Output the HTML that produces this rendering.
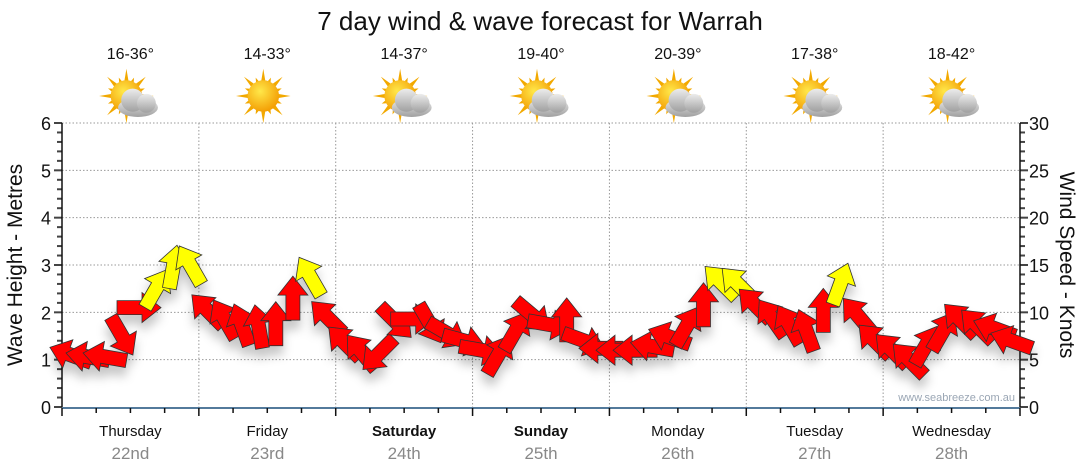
<!DOCTYPE html>
<html><head><meta charset="utf-8"><style>
body{margin:0;background:#fff;}
svg{display:block;font-family:"Liberation Sans",sans-serif;}
</style></head><body>
<svg id="chart" width="1080" height="475" viewBox="0 0 1080 475">
<defs>
<filter id="sh" x="-50%" y="-50%" width="200%" height="250%"><feDropShadow dx="0" dy="9" stdDeviation="5" flood-color="#000" flood-opacity="0.22"/></filter>
<radialGradient id="sunG" cx="0.4" cy="0.35" r="0.7"><stop offset="0" stop-color="#ffe84a"/><stop offset="1" stop-color="#f39a00"/></radialGradient>
<linearGradient id="cloudG" x1="0" y1="0" x2="0" y2="1"><stop offset="0" stop-color="#ececec"/><stop offset="1" stop-color="#a0a0a0"/></linearGradient>
</defs>
<text x="540" y="30" text-anchor="middle" font-size="26" fill="#111">7 day wind &amp; wave forecast for Warrah</text>
<g id="grid"></g>
<g id="axes"></g>
<g id="icons"></g>
<g id="arrows" filter="url(#sh)"></g>
<text transform="translate(22,265) rotate(-90)" text-anchor="middle" font-size="21" fill="#111">Wave Height - Metres</text>
<text transform="translate(1060,265) rotate(90)" text-anchor="middle" font-size="21" fill="#111">Wind Speed - Knots</text>
<text x="1015" y="401" text-anchor="end" font-size="11" fill="#9aa6b4">www.seabreeze.com.au</text>
</svg>
<script>
const days=["Thursday","Friday","Saturday","Sunday","Monday","Tuesday","Wednesday"];
const dates=["22nd","23rd","24th","25th","26th","27th","28th"];
const temps=["16-36°","14-33°","14-37°","19-40°","20-39°","17-38°","18-42°"];
const cloudy=[1,0,1,1,1,1,1];
const waveTicks=[0,1,2,3,4,5,6];
const windTicks=[0,5,10,15,20,25,30];
// wind speed (knots), 3-hourly
const windSpeed=[5.5,5.3,5.3,7.5,10.5,12.5,14.8,15,
10.2,9.3,8.7,8.5,8.8,11.5,13.8,9.5,
6.8,5.8,5.6,9,9.3,8.8,7.8,7,
6,5.5,8,9.7,8.7,9.2,7,6.2,
6,6,6.4,7.4,8.5,10.8,13.2,13,
10.8,9.4,8.7,8.1,10.2,13,9.7,7,
6,5,6.5,8,9.2,8.6,8.3,7];
// arrow screen angle (deg, 0=right, 90=down)
const windDir=[200,190,190,60,0,300,280,240,
225,240,250,260,270,270,240,225,
225,230,135,45,0,60,30,15,
10,300,300,40,10,270,20,180,
180,180,190,200,300,270,225,225,
225,235,240,250,270,290,230,225,
225,225,300,300,225,225,200,200];
const NS="http://www.w3.org/2000/svg";
const X0=62,X1=1020,Y0=407,Y1=123;
const dayW=(X1-X0)/7;
const xT=h=>X0+h/168*(X1-X0);
const yW=m=>Y0-m/6*(Y0-Y1);
const yK=k=>Y0-k/30*(Y0-Y1);
function mk(tag,attrs,parent){const e=document.createElementNS(NS,tag);for(const k in attrs)e.setAttribute(k,attrs[k]);parent.appendChild(e);return e;}
const grid=document.getElementById('grid'),axes=document.getElementById('axes'),icons=document.getElementById('icons'),arrows=document.getElementById('arrows');
waveTicks.forEach(v=>{
 if(v>0){const l=mk('line',{x1:X0,x2:X1,y1:yW(v),y2:yW(v),stroke:'#999','stroke-dasharray':'1.5,2'},grid);
 
 }
 const t=mk('text',{x:46,y:yW(v)+7,'text-anchor':'middle','font-size':18,fill:'#111'},axes);t.textContent=v;
 
 
});
windTicks.forEach(v=>{
 const t=mk('text',{x:1029,y:yK(v)+7,'font-size':18,fill:'#111'},axes);t.textContent=v;
 
 
});
for(let i=0;i<=30;i++){
 const y=yK(i),len=(i%5==0)?8:5;
 mk('line',{x1:X0,x2:X0-len,y1:y,y2:y,stroke:'#444','stroke-width':2},axes);
 mk('line',{x1:X1,x2:X1+len,y1:y,y2:y,stroke:'#444','stroke-width':2},axes);
}
mk('line',{x1:X0,x2:X0,y1:Y1,y2:Y0,stroke:'#111','stroke-width':1.5},axes);
mk('line',{x1:X1,x2:X1,y1:Y1,y2:Y0,stroke:'#111','stroke-width':1.5},axes);
const xa=mk('line',{x1:X0,x2:X1,y1:Y0+1,y2:Y0+1,stroke:'#1a4f7a','stroke-width':1.5},axes);


for(let h=0;h<=168;h+=6){const x=xT(h);mk('line',{x1:x,x2:x,y1:Y0+1,y2:Y0+(h%24==0?9:6),stroke:'#111','stroke-width':1.5},axes);}
days.forEach((d,i)=>{
 const cx=X0+dayW*(i+0.5);
 if(i>0){const g=mk('line',{x1:X0+dayW*i,x2:X0+dayW*i,y1:Y1,y2:Y0,stroke:'#999','stroke-dasharray':'1.5,2'},grid);
 
 }
 const t=mk('text',{x:cx,y:436,'text-anchor':'middle','font-size':15,fill:'#111','font-weight':(i==2||i==3)?'bold':'normal'},axes);t.textContent=d;
 
 
 const t2=mk('text',{x:cx,y:459,'text-anchor':'middle','font-size':17,fill:'#888'},axes);t2.textContent=dates[i];
 
 
 const t3=mk('text',{x:cx,y:59,'text-anchor':'middle','font-size':16,fill:'#111'},icons);t3.textContent=temps[i];
 
 
 const g=mk('g',{transform:`translate(${cx-4},${96}) scale(1.05)`},icons);
 
 
 for(let r=0;r<16;r++){const a=r*22.5*Math.PI/180,L=r%2?19:26;
  mk('polygon',{points:`${Math.cos(a)*L},${Math.sin(a)*L} ${Math.cos(a+0.2)*12},${Math.sin(a+0.2)*12} ${Math.cos(a-0.2)*12},${Math.sin(a-0.2)*12}`,fill:'#f2a900'},g);}
 mk('circle',{cx:0,cy:0,r:15,fill:'url(#sunG)'},g);
 if(cloudy[i]){
  const c=mk('g',{transform:'translate(9,5)'},g);
  mk('ellipse',{cx:2,cy:6,rx:19,ry:9,fill:'url(#cloudG)'},c);
  mk('circle',{cx:-3,cy:-1,r:11,fill:'url(#cloudG)'},c);
  mk('circle',{cx:10,cy:2,r:9,fill:'url(#cloudG)'},c);
 }
});
windSpeed.forEach((s,i)=>{
 const x=xT(i*3+1.5),y=yK(s);
 const p=mk('polygon',{points:"-22,-7 3,-7 3,-15 22,0 3,15 3,7 -22,7",transform:`translate(${x.toFixed(1)},${y.toFixed(1)}) rotate(${windDir[i]})`,fill:s>=12.5?'#ffff00':'#ff0000',stroke:'#333','stroke-width':0.8},arrows);
 
 
});
</script>
</body></html>
